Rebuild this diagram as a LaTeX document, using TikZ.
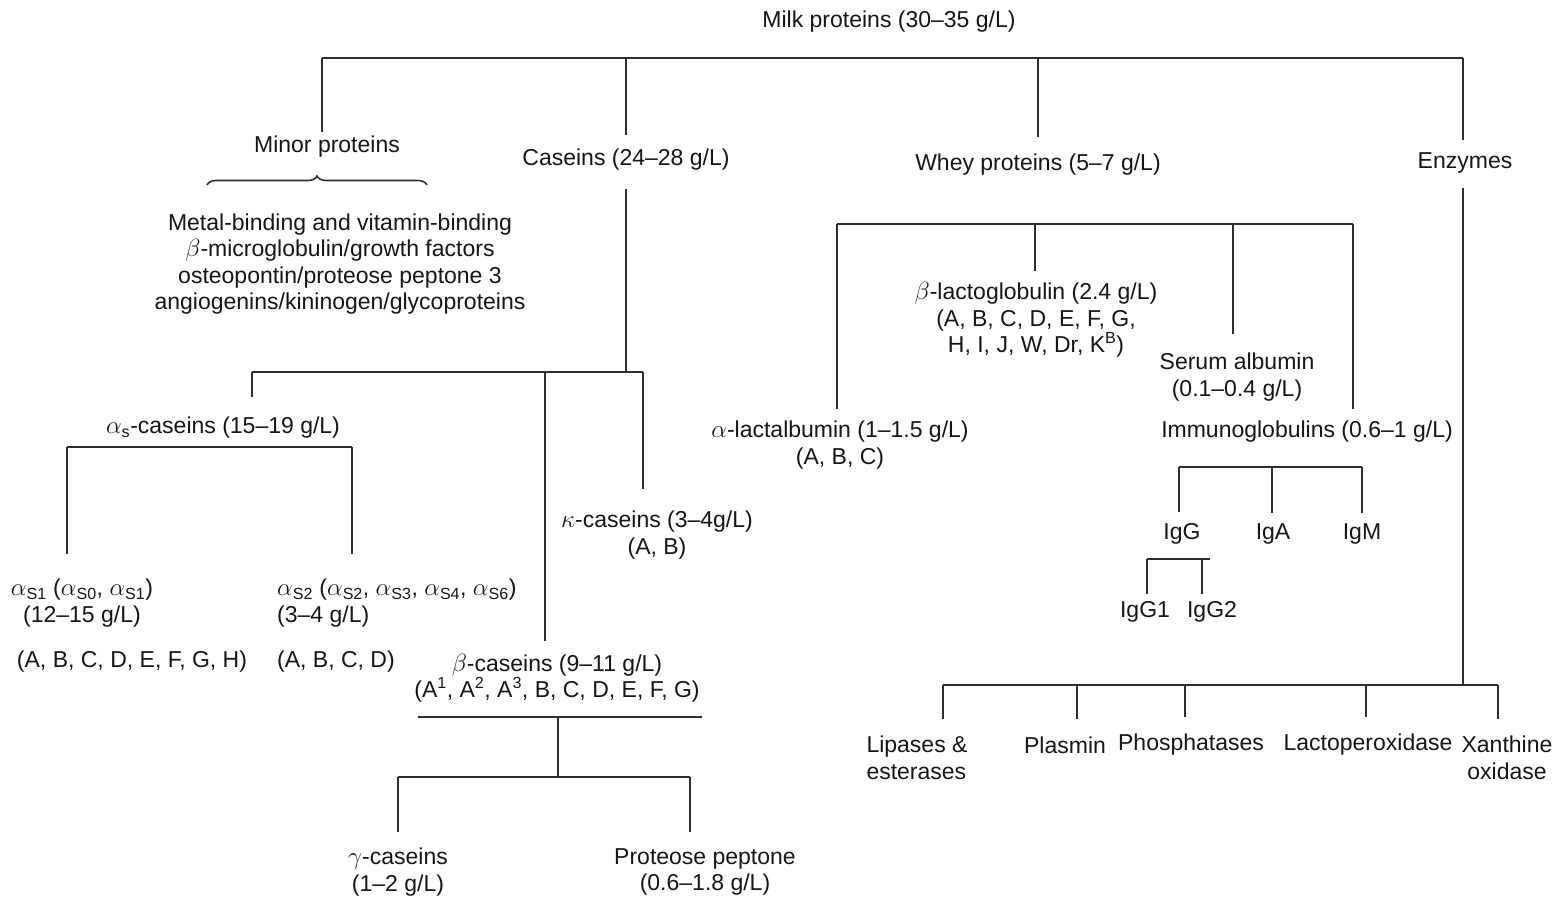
\documentclass[tikz,border=0pt]{standalone}
\usepackage{fontspec}
\setmainfont{Liberation Sans}
\usetikzlibrary{decorations.pathreplacing,calc}
\definecolor{txt}{HTML}{161616}
\definecolor{lnc}{HTML}{2E2E2E}
\begin{document}
\begin{tikzpicture}[x=1pt,y=-1pt,
  every node/.style={font=\fontsize{23}{26.5}\selectfont, text=txt, inner sep=4pt, align=center},
  ln/.style={draw=lnc, line width=1.9pt},
  brc/.style={draw=lnc, line width=1.6pt, decorate, decoration={brace, amplitude=9pt}}
]
\useasboundingbox[fill=white] (0,0) rectangle (1555,899);

% ---------- level 0 and 1
\node (milk) at (889,22) {Milk proteins (30–35 g/L)};
\node (minor) at (327,147) {Minor proteins};
\node (minorlist) at (340,264) {Metal-binding and vitamin-binding\\$\beta$-microglobulin/growth factors\\osteopontin/proteose peptone 3\\angiogenins/kininogen/glycoproteins};
\node (cas) at (626,160) {Caseins (24–28 g/L)};
\node (whey) at (1038,165) {Whey proteins (5–7 g/L)};
\node (enz) at (1465,163) {Enzymes};

\coordinate (tb1) at (322,58);
\coordinate (tb2) at (1463,58);
\draw[ln] (tb1) -- (tb2);
\draw[ln] (tb1) -- (tb1 |- minor.north);
\draw[ln, shorten >=10pt] (cas.north |- tb1) -- (cas.north);
\draw[ln, shorten >=13pt] (whey.north |- tb1) -- (whey.north);
\draw[ln, shorten >=9pt] (tb2) -- (tb2 |- enz.north);
\draw[brc] (207,185) -- (427,185);

% ---------- caseins
\coordinate (cb1) at (252,372);
\coordinate (cb2) at (643,372);
\coordinate (bx) at (545,372);
\draw[ln, shorten <=14pt] (cas.south) -- (cas.south |- cb1);
\draw[ln] (cb1) -- (cb2);

\node (as) at (223,428) {$\alpha$\textsubscript{s}-caseins (15–19 g/L)};
\node (kappa) at (657,535) {$\kappa$-caseins (3–4g/L)\\(A, B)};
\node (beta) at (557,678) {$\beta$-caseins (9–11 g/L)\\(A\textsuperscript{1}, A\textsuperscript{2}, A\textsuperscript{3}, B, C, D, E, F, G)};
\draw[ln, shorten >=16pt] (cb1) -- (cb1 |- as.north);
\draw[ln, shorten >=18pt] (cb2) -- (cb2 |- kappa.north);
\draw[ln, shorten >=9pt] (bx) -- (bx |- beta.north);

% alpha-s
\coordinate (ab1) at (67,447);
\coordinate (ab2) at (352,447);
\draw[ln] (ab1) -- (ab2);
\node (as1) at (82,603) {$\alpha$\textsubscript{S1} ($\alpha$\textsubscript{S0}, $\alpha$\textsubscript{S1})\\(12–15 g/L)};
\node (as1v) at (132,662) {(A, B, C, D, E, F, G, H)};
\node[align=left, anchor=west] (as2) at (273,603) {$\alpha$\textsubscript{S2} ($\alpha$\textsubscript{S2}, $\alpha$\textsubscript{S3}, $\alpha$\textsubscript{S4}, $\alpha$\textsubscript{S6})\\(3–4 g/L)};
\node[anchor=west] (as2v) at (273,662) {(A, B, C, D)};
\draw[ln, shorten >=21pt] (ab1) -- (ab1 |- as1.north);
\draw[ln, shorten >=21pt] (ab2) -- (ab2 |- as2.north);

% beta
\coordinate (bu1) at (418,717);
\coordinate (bu2) at (702,717);
\coordinate (bsplit) at (558,717);
\coordinate (gb1) at (398,777);
\coordinate (gb2) at (690,777);
\draw[ln] (bu1) -- (bu2);
\draw[ln] (bsplit) -- (bsplit |- gb1);
\draw[ln] (gb1) -- (gb2);
\node (gamma) at (398,872) {$\gamma$-caseins\\(1–2 g/L)};
\node (pp) at (705,872) {Proteose peptone\\(0.6–1.8 g/L)};
\draw[ln, shorten >=12pt] (gb1) -- (gb1 |- gamma.north);
\draw[ln, shorten >=12pt] (gb2) -- (gb2 |- pp.north);

% ---------- whey
\coordinate (wb1) at (837,224);
\coordinate (wb2) at (1353,224);
\coordinate (wbb) at (1035,224);
\coordinate (wbs) at (1233,224);
\draw[ln] (wb1) -- (wb2);
\node (alac) at (840,445) {$\alpha$-lactalbumin (1–1.5 g/L)\\(A, B, C)};
\node (blg) at (1036,320) {$\beta$-lactoglobulin (2.4 g/L)\\(A, B, C, D, E, F, G,\\H, I, J, W, Dr, K\textsuperscript{B})};
\node (sa) at (1237,377) {Serum albumin\\(0.1–0.4 g/L)};
\node (ig) at (1307,432) {Immunoglobulins (0.6–1 g/L)};
\draw[ln, shorten >=8pt] (wb1) -- (wb1 |- alac.north);
\draw[ln, shorten >=7pt] (wbb) -- (wbb |- blg.north);
\draw[ln, shorten >=15pt] (wbs) -- (wbs |- sa.north);
\draw[ln, shorten >=8pt] (wb2) -- (wb2 |- ig.north);

% immunoglobulins
\coordinate (ib1) at (1179,467);
\coordinate (ibm) at (1272,467);
\coordinate (ib2) at (1362,467);
\draw[ln] (ib1) -- (ib2);
\node (igg) at (1182,534) {IgG};
\node (iga) at (1273,534) {IgA};
\node (igm) at (1362,534) {IgM};
\draw[ln, shorten >=7pt] (ib1) -- (ib1 |- igg.north);
\draw[ln, shorten >=7pt] (ibm) -- (ibm |- iga.north);
\draw[ln, shorten >=7pt] (ib2) -- (ib2 |- igm.north);

\coordinate (gg1) at (1147,559);
\coordinate (gg2) at (1202,559);
\coordinate (gg3) at (1210,559);
\draw[ln] (gg1) -- (gg3);
\node (igg1) at (1145,612) {IgG1};
\node (igg2) at (1212,612) {IgG2};
\draw[ln, shorten >=3pt] (gg1) -- (gg1 |- igg1.north);
\draw[ln, shorten >=3pt] (gg2) -- (gg2 |- igg2.north);

% ---------- enzymes
\coordinate (eb1) at (943,685);
\coordinate (eb2) at (1498,685);
\coordinate (ebp) at (1077,685);
\coordinate (ebh) at (1185,685);
\coordinate (ebl) at (1366,685);
\draw[ln, shorten <=11pt] (tb2 |- enz.south) -- (tb2 |- eb1);
\draw[ln] (eb1) -- (eb2);
\node[align=left] (lip) at (917,758) {Lipases \&\\esterases};
\node (plas) at (1065,745) {Plasmin};
\node (phos) at (1191,745) {Phosphatases};
\node (lpo) at (1368,745) {Lactoperoxidase};
\node (xo) at (1507,758) {Xanthine\\oxidase};
\draw[ln, shorten >=13pt] (eb1) -- (eb1 |- lip.north);
\draw[ln, shorten >=13pt] (ebp) -- (ebp |- plas.north);
\draw[ln, shorten >=13pt] (ebh) -- (ebh |- phos.north);
\draw[ln, shorten >=13pt] (ebl) -- (ebl |- lpo.north);
\draw[ln, shorten >=13pt] (eb2) -- (eb2 |- xo.north);
\end{tikzpicture}
\end{document}
